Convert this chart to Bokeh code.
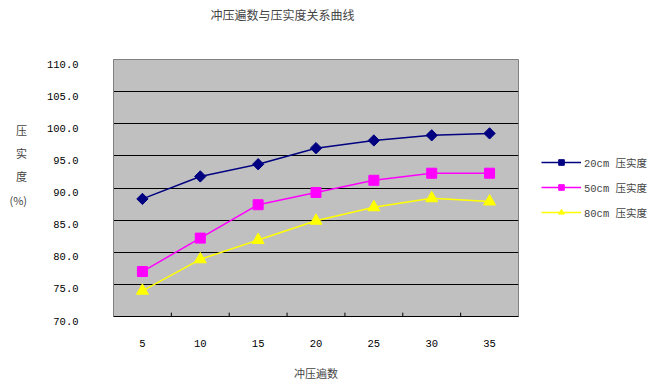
from bokeh.plotting import figure
from bokeh.layouts import row
from bokeh.models import Legend, LegendItem, FactorRange, FixedTicker, Range1d, ColumnDataSource
from bokeh.transform import dodge
from bokeh.embed import file_html
from bokeh.resources import INLINE
import math

passes = ["5", "10", "15", "20", "25", "30", "35"]
c20 = [88.3, 91.8, 93.7, 96.2, 97.4, 98.2, 98.5]
c50 = [77.0, 82.2, 87.4, 89.3, 91.2, 92.3, 92.3]
c80 = [74.0, 78.9, 81.9, 84.9, 87.0, 88.4, 87.9]
y_ticks = [70, 75, 80, 85, 90, 95, 100, 105, 110]
series_names = ["20cm 压实度", "50cm 压实度", "80cm 压实度"]
title_text = "冲压遍数与压实度关系曲线"
x_title = "冲压遍数"
y_title = "压\n实\n度\n(%)\n \n "

colors = ["#000080", "#FF00FF", "#FFFF00"]
markers = ["square", "square", "triangle"]
angles = [math.pi / 4, 0, 0]
sizes = [8, 10, 12]

FONT = "Liberation Mono, Noto Sans CJK SC"
CJK = "Noto Sans CJK SC"

p = figure(width=530, height=383,
           x_range=FactorRange(*passes), y_range=Range1d(70, 110),
           output_backend="svg", toolbar_location=None,
           min_border_left=113, min_border_right=12,
           min_border_top=57, min_border_bottom=67,
           title=title_text + "\n \n ")

p.title.text_font = CJK
p.title.text_font_size = "12px"
p.title.text_font_style = "normal"
p.title.align = "left"
p.title.offset = 97
p.title.standoff = 6

p.background_fill_color = "#C0C0C0"
p.border_fill_color = "white"
p.outline_line_color = "#808080"

p.xgrid.grid_line_color = None
p.ygrid.grid_line_color = "black"
p.ygrid.grid_line_width = 1
p.ygrid.ticker = FixedTicker(ticks=y_ticks)

p.yaxis.ticker = FixedTicker(ticks=y_ticks)
p.yaxis.major_label_overrides = {t: "\n" + f"{t:.1f}" for t in y_ticks}
p.yaxis.major_tick_line_color = None
p.yaxis.minor_tick_line_color = None
p.yaxis.axis_line_color = "#808080"
p.yaxis.major_label_standoff = 29
p.yaxis.major_label_text_font = FONT
p.yaxis.major_label_text_font_size = "10.5px"
p.yaxis.major_label_text_line_height = 0.85
p.yaxis.major_label_text_color = "black"
p.yaxis.axis_label = y_title
p.yaxis.axis_label_orientation = "horizontal"
p.yaxis.axis_label_text_font = CJK
p.yaxis.axis_label_text_font_style = "normal"
p.yaxis.axis_label_text_font_size = "11px"
p.yaxis.axis_label_text_line_height = 1.45
p.yaxis.axis_label_standoff = 17

p.xaxis.major_tick_line_color = None
p.xaxis.axis_line_color = "black"
p.xaxis.major_label_standoff = 17
p.xaxis.major_label_text_font = FONT
p.xaxis.major_label_text_font_size = "10.5px"
p.xaxis.major_label_text_color = "black"
p.xaxis.axis_label = x_title
p.xaxis.axis_label_text_font = CJK
p.xaxis.axis_label_text_font_style = "normal"
p.xaxis.axis_label_text_font_size = "11px"
p.xaxis.axis_label_standoff = 15

# category boundary tick marks
tsrc = ColumnDataSource(dict(x=passes[:-1]))
p.segment(x0=dodge("x", 0.5, range=p.x_range), x1=dodge("x", 0.5, range=p.x_range),
          y0=70, y1=70.6, source=tsrc, line_color="black", line_width=1)

for vals, c, mk, ang, sz in zip([c20, c50, c80], colors, markers, angles, sizes):
    p.line(passes, vals, line_color=c, line_width=1.5)
    p.scatter(passes, vals, marker=mk, angle=ang, size=sz, fill_color=c, line_color=c)

# legend panel: the same series, drawn outside this panel's visible range,
# serve only as legend keys
p2 = figure(width=124, height=383, output_backend="svg", toolbar_location=None,
            x_axis_location=None, y_axis_location=None, min_border=0,
            x_range=FactorRange(*passes), y_range=Range1d(0, 1))
p2.outline_line_color = None
p2.grid.grid_line_color = None
p2.background_fill_color = "white"
p2.border_fill_color = "white"

items = []
for name, vals, c, mk, ang, sz in zip(series_names, [c20, c50, c80], colors, markers, angles, sizes):
    lr = p2.line(passes, vals, line_color=c, line_width=1.5)
    mr = p2.scatter(passes, vals, marker=mk, angle=ang, size=sz, fill_color=c, line_color=c)
    items.append(LegendItem(label=name, renderers=[lr, mr]))

legend = Legend(items=items, location=(11, 94), padding=0, margin=0, spacing=5,
                glyph_width=40, glyph_height=14, label_height=20, label_standoff=3,
                label_text_font=FONT, label_text_font_size="10.5px",
                border_line_color=None, background_fill_alpha=0)
p2.add_layout(legend, "center")

layout = row(p, p2)
open("out.html", "w").write(file_html(layout, INLINE))
